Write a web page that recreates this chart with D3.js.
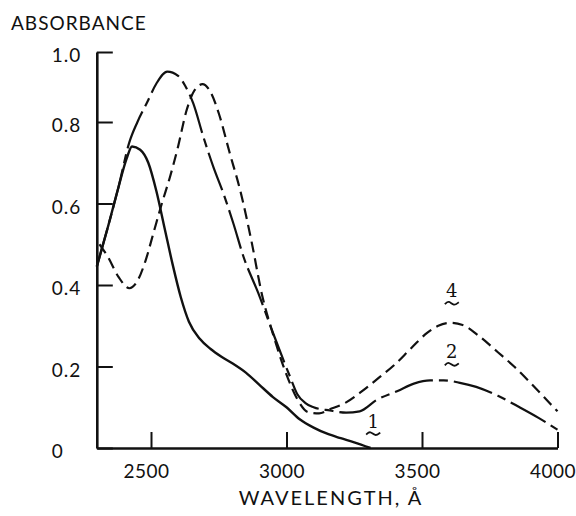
<!DOCTYPE html>
<html>
<head>
<meta charset="utf-8">
<script src="https://cdn.jsdelivr.net/npm/d3@7"></script>
<style>
  body { margin: 0; background: #fff; }
  svg { display: block; }
  text { font-family: Lato, "Liberation Sans", sans-serif; fill: #111; }
</style>
</head>
<body>
<svg></svg>
<script>
// data
const wave1 = [2300, 2340, 2380, 2410, 2430, 2460, 2490, 2520, 2550, 2580, 2610, 2640, 2680, 2720, 2760, 2800, 2850, 2900, 2950, 3000, 3050, 3100, 3150, 3200, 3250, 3310];
const abs1  = [0.445, 0.54, 0.64, 0.71, 0.74, 0.732, 0.70, 0.63, 0.54, 0.45, 0.37, 0.31, 0.268, 0.243, 0.224, 0.208, 0.185, 0.155, 0.125, 0.10, 0.07, 0.05, 0.035, 0.024, 0.014, 0.0];

const wave2 = [2300, 2340, 2380, 2420, 2450, 2485, 2520, 2560, 2600, 2625, 2656, 2693, 2730, 2767, 2804, 2841, 2896, 2951, 3013, 3040, 3070, 3100, 3160, 3220, 3270, 3333, 3410, 3470, 3530, 3580, 3640, 3700, 3780, 3860, 3930, 4000];
const abs2  = [0.445, 0.54, 0.64, 0.75, 0.80, 0.855, 0.91, 0.944, 0.932, 0.905, 0.853, 0.764, 0.69, 0.625, 0.551, 0.47, 0.38, 0.281, 0.175, 0.132, 0.11, 0.10, 0.092, 0.087, 0.09, 0.118, 0.14, 0.158, 0.166, 0.166, 0.16, 0.15, 0.128, 0.10, 0.074, 0.045];

const wave4 = [2310, 2340, 2380, 2420, 2450, 2480, 2510, 2540, 2570, 2600, 2630, 2660, 2690, 2720, 2750, 2790, 2830, 2870, 2910, 2950, 3000, 3040, 3080, 3120, 3160, 3220, 3280, 3340, 3400, 3460, 3520, 3560, 3605, 3650, 3710, 3780, 3840, 3900, 3950, 4000];
const abs4  = [0.50, 0.47, 0.42, 0.392, 0.41, 0.46, 0.53, 0.60, 0.665, 0.74, 0.83, 0.89, 0.908, 0.885, 0.825, 0.725, 0.63, 0.51, 0.375, 0.28, 0.18, 0.12, 0.088, 0.085, 0.095, 0.112, 0.14, 0.172, 0.205, 0.245, 0.283, 0.30, 0.307, 0.302, 0.275, 0.235, 0.20, 0.16, 0.125, 0.09];

const xTicks = [2500, 3000, 3500, 4000];
const yTicks = [0, 0.2, 0.4, 0.6, 0.8, 1.0];
const yTickLabels = ['0', '0.2', '0.4', '0.6', '0.8', '1.0'];

const curveNames = ['1', '2', '4'];
const curveLabelAt = [[3320, 0.05], [3610, 0.22], [3610, 0.37]];

let width = 576
let height = 516

let svg = d3.select('svg')
  .attr('width', width)
  .attr('height', height)

// the scanned axis is a little squeezed above 0.8, so the scale has a knee there
let xScale = d3.scaleLinear().domain([2300, 4000]).range([96.8, 557.5])
let yScale = d3.scaleLinear().domain([0, 0.8, 1.0]).range([448, 122, 52])

let toPoints = (w, a) => w.map((d, i) => [d, a[i]])

let line = d3.line()
  .x(d => xScale(d[0]))
  .y(d => yScale(d[1]))
  .curve(d3.curveMonotoneX)

// axes
let xAxis = d3.axisBottom(xScale)
  .tickValues(xTicks)
  .tickFormat(d3.format('d'))
  .tickSizeInner(-16)
  .tickSizeOuter(0)
  .tickPadding(17)

let yAxis = d3.axisLeft(yScale)
  .tickValues(yTicks)
  .tickFormat((d, i) => yTickLabels[i])
  .tickSizeInner(-16)
  .tickSizeOuter(0)
  .tickPadding(45)

let gx = svg.append('g')
  .attr('transform', 'translate(0, 448)')
  .call(xAxis)
gx.selectAll('text')
  .attr('dx', -5)
  .style('font-size', '19px')
  .style('letter-spacing', '0.5px')
gx.select('.domain').style('stroke-width', '2.6px').style('stroke', '#111')
gx.selectAll('.tick line').style('stroke-width', '2px').style('stroke', '#111')

let gy = svg.append('g')
  .attr('transform', 'translate(96.8, 0)')
  .call(yAxis)
gy.selectAll('text')
  .attr('text-anchor', 'start')
  .attr('dy', '0.5em')
  .style('font-size', '19px')
  .style('letter-spacing', '1px')
gy.select('.domain').style('stroke-width', '2.6px').style('stroke', '#111')
gy.selectAll('.tick line').style('stroke-width', '2px').style('stroke', '#111')

svg.append('text')
  .attr('x', 11)
  .attr('y', 30)
  .style('font-size', '19px')
  .style('letter-spacing', '1px')
  .text('ABSORBANCE')

svg.append('text')
  .attr('x', 331)
  .attr('y', 505)
  .attr('text-anchor', 'middle')
  .style('font-size', '20px')
  .style('letter-spacing', '2px')
  .text('WAVELENGTH, Å')

// curves
svg.append('path')
  .datum(toPoints(wave1, abs1))
  .attr('d', line)
  .attr('fill', 'none')
  .attr('stroke', '#111')
  .attr('stroke-width', 2.4)

svg.append('path')
  .datum(toPoints(wave2, abs2))
  .attr('d', line)
  .attr('fill', 'none')
  .attr('stroke', '#111')
  .attr('stroke-width', 2.2)
  .attr('stroke-dasharray', '40,6,9,6')

svg.append('path')
  .datum(toPoints(wave4, abs4))
  .attr('d', line)
  .attr('fill', 'none')
  .attr('stroke', '#111')
  .attr('stroke-width', 2.2)
  .attr('stroke-dasharray', '11,6')

// curve numbers with the wavy underline
let wave = d3.line().curve(d3.curveBasis)
curveNames.forEach((n, i) => {
  let px = xScale(curveLabelAt[i][0])
  let py = yScale(curveLabelAt[i][1])
  svg.append('text')
    .attr('x', px)
    .attr('y', py)
    .attr('text-anchor', 'middle')
    .style('font-family', '"DejaVu Serif", serif')
    .style('font-size', '18px')
    .text(n)
  svg.append('path')
    .attr('d', wave([[px - 7, py + 7], [px - 3, py + 3], [px + 2, py + 9], [px + 7, py + 5]]))
    .attr('fill', 'none')
    .attr('stroke', '#111')
    .attr('stroke-width', 1.8)
})
</script>
</body>
</html>
